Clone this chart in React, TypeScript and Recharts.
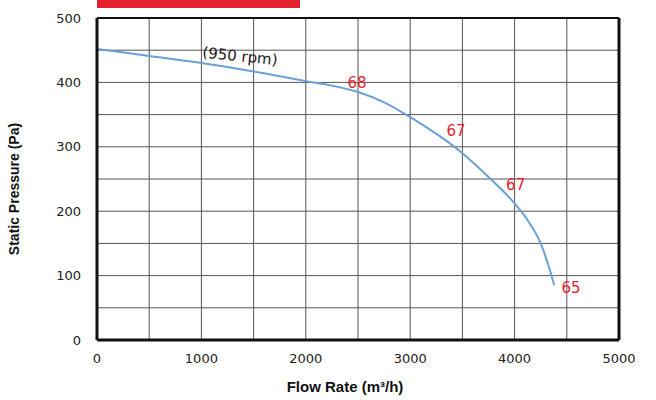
import {
  LineChart,
  Line,
  XAxis,
  YAxis,
  CartesianGrid,
  ReferenceDot,
  ReferenceLine,
} from "recharts";

// fan curve (flow m3/h vs static pressure Pa)
const flowRates = [0, 500, 1000, 1500, 2000, 2250, 2500, 2750, 3000, 3500, 3750, 4000, 4125, 4250, 4320, 4380];
const pressures = [452, 441, 430, 417, 402, 395, 385, 369, 346, 290, 253, 212, 186, 150, 118, 85];

const xTicks = [0, 1000, 2000, 3000, 4000, 5000];
const yTicks = [0, 100, 200, 300, 400, 500];
const xGrid = [0, 500, 1000, 1500, 2000, 2500, 3000, 3500, 4000, 4500, 5000];
const yGrid = [0, 50, 100, 150, 200, 250, 300, 350, 400, 450, 500];

// noise level labels along the curve
const noiseFlow = [2490, 3440, 4010, 4540];
const noisePressure = [399, 325, 241, 81];
const noiseText = ["68", "67", "67", "65"];

const data = flowRates.map((f, i) => ({ flow: f, pressure: pressures[i] }));

const tickStyle = { fill: "#222", fontSize: 13, fontFamily: "DejaVu Sans" };

const App = () => {
  return (
    <div style={{ position: "absolute", left: 0, top: 0, width: 656, height: 400, background: "#fff" }}>
      {/* red title bar, cut off at the top */}
      <div
        style={{ position: "absolute", left: 97, top: 0, width: 203, height: 8, background: "#e5202e" }}
      />
      <LineChart width={656} height={400} data={data} margin={{ top: 18, right: 37, bottom: 0, left: 0 }}>
        <CartesianGrid
          stroke="#555"
          strokeWidth={1}
          horizontalValues={yGrid}
          verticalValues={xGrid}
        />
        <XAxis
          dataKey="flow"
          type="number"
          domain={[0, 5000]}
          ticks={xTicks}
          tickLine={false}
          tick={tickStyle}
          tickMargin={8}
          axisLine={{ stroke: "#111", strokeWidth: 3 }}
          height={60}
          label={{
            value: "Flow Rate (m³/h)",
            position: "insideBottom",
            offset: 8,
            dx: -13,
            style: { fill: "#111", fontSize: 15, fontWeight: "bold", fontFamily: "Liberation Sans" },
          }}
        />
        <YAxis
          dataKey="pressure"
          type="number"
          domain={[0, 500]}
          ticks={yTicks}
          tickLine={false}
          tick={tickStyle}
          tickMargin={10}
          width={97}
          axisLine={{ stroke: "#111", strokeWidth: 3 }}
          label={{
            value: "Static Pressure (Pa)",
            angle: -90,
            position: "insideLeft",
            offset: 14,
            dy: 10,
            style: { textAnchor: "middle", fill: "#111", fontSize: 14, fontWeight: "bold", fontFamily: "Liberation Sans" },
          }}
        />
        <ReferenceLine y={500} stroke="#111" strokeWidth={2} />
        <ReferenceLine x={5000} stroke="#111" strokeWidth={3} />
        <Line
          type="monotone"
          dataKey="pressure"
          stroke="#6a9fd8"
          strokeWidth={2}
          dot={false}
          isAnimationActive={false}
        />
        <ReferenceDot
          x={1370}
          y={441}
          r={0}
          fill="none"
          stroke="none"
          label={{
            value: "(950 rpm)",
            position: "center",
            angle: 6,
            style: { fill: "#222", fontSize: 15, fontFamily: "DejaVu Sans" },
          }}
        />
        {noiseText.map((t, i) => (
          <ReferenceDot
            key={i}
            x={noiseFlow[i]}
            y={noisePressure[i]}
            r={0}
            fill="none"
            stroke="none"
            label={{
              value: t,
              position: "center",
              style: { fill: "#e52330", fontSize: 15, fontFamily: "DejaVu Sans" },
            }}
          />
        ))}
      </LineChart>
    </div>
  );
};

export default App;
